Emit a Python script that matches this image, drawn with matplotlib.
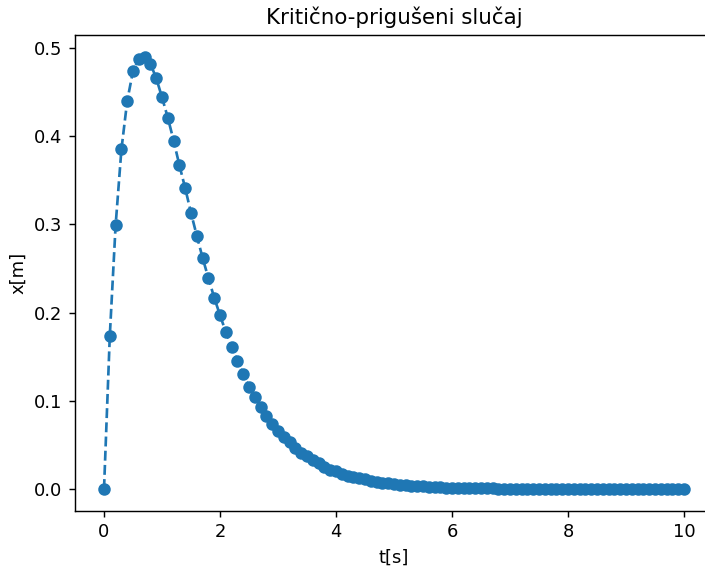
import matplotlib
matplotlib.use("Agg")
import matplotlib.pyplot as plt

# time samples [s]
t = [round(0.1 * k, 1) for k in range(101)]

# displacement [m]
x = [0.0, 0.174, 0.299, 0.385, 0.440, 0.474, 0.488, 0.490, 0.482, 0.466,
     0.444, 0.421, 0.395, 0.367, 0.341, 0.313, 0.287, 0.262, 0.239, 0.217,
     0.197, 0.178, 0.161, 0.145, 0.130, 0.116, 0.104, 0.093, 0.083, 0.074,
     0.066, 0.059, 0.053, 0.047, 0.041, 0.037, 0.033, 0.029, 0.025, 0.022,
     0.020, 0.017, 0.015, 0.014, 0.012, 0.011, 0.0093, 0.0082, 0.0072, 0.0063,
     0.0055, 0.0049, 0.0043, 0.0037, 0.0033, 0.0029, 0.0025, 0.0022, 0.0019, 0.0017,
     0.0015, 0.0013, 0.0011, 0.0010, 0.0009, 0.0008, 0.0007, 0.0006, 0.0005, 0.00044,
     0.00039, 0.00034, 0.00029, 0.00025, 0.00022, 0.00019, 0.00017, 0.00014, 0.00012, 0.0001,
     0.0001, 0.0001, 0.0001, 0.0001, 0.0001, 0.0001, 0.0001, 0.0001, 0.0001, 0.0001,
     0.0001, 0.0001, 0.0001, 0.0001, 0.0001, 0.0001, 0.0001, 0.0001, 0.0001, 0.0001,
     0.0001]

dpi = 128.6
fig = plt.figure(figsize=(705 / dpi, 568 / dpi), dpi=dpi)
# the reference is cropped on the right, so the axes run past the edge
ax = fig.add_axes([0.1064, 0.101, 0.905, 0.837])
ax.plot(t, x, 'o--')
ax.set_title("Kritično-prigušeni slučaj")
ax.set_xlabel("t[s]")
ax.set_ylabel("x[m]")
ax.spines['right'].set_visible(False)

fig.savefig("out.png", dpi=dpi)
